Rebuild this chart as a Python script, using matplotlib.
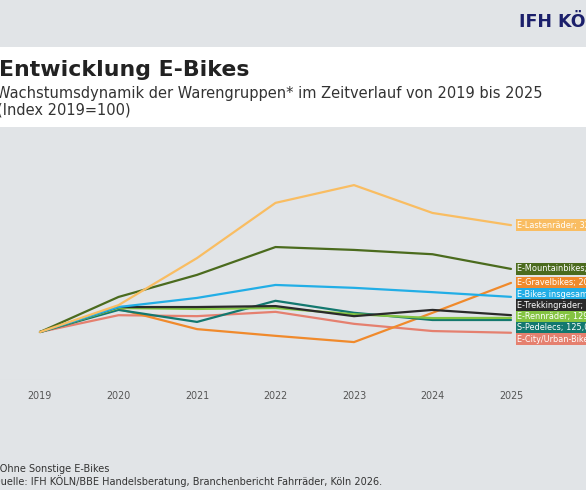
import matplotlib.pyplot as plt
from matplotlib.patches import Rectangle
from matplotlib.transforms import offset_copy

# Werte (Index 2019=100)
years = [2019, 2020, 2021, 2022, 2023, 2024, 2025]
lasten = [100, 156, 254, 369, 406, 348, 322.6]
mtb = [100, 173, 219, 277, 271, 262, 231.4]
gravel = [100, 148, 106, 92, 79, 140, 202.3]
gesamt = [100, 152, 171, 198, 192, 183, 173.2]
trekking = [100, 152, 152, 154, 133, 146, 135.1]
renn = [100, 150, 148, 150, 137, 129, 129.4]
spedelec = [100, 146, 121, 165, 140, 125, 125.0]
city = [100, 135, 133, 142, 117, 102, 98.4]

names = ["E-City/Urban-Bikes", "E-Gravelbikes", "S-Pedelecs", "E-Rennräder",
         "E-Trekkingräder", "E-Bikes insgesamt", "E-Mountainbikes", "E-Lastenräder"]
series = [city, gravel, spedelec, renn, trekking, gesamt, mtb, lasten]
colors = ["#E5806F", "#F08A2C", "#13786F", "#84C441",
          "#2A2A2A", "#22AEE6", "#4B6B1E", "#F9BD62"]

BG = "#E1E4E7"
W, H = 586, 490

fig = plt.figure(figsize=(W / 100, H / 100), dpi=100, facecolor=BG)

# weisses Titelband
fig.patches.append(Rectangle((0, 1 - 127 / H), 1, 80 / H, transform=fig.transFigure,
                             facecolor="white", edgecolor="none", zorder=0))

fig.text(519 / W, 1 - 22 / H, "IFH KÖLN", fontsize=12.5, fontweight="bold",
         color="#1B1F6B", va="center", ha="left")
fig.text(-1 / W, 1 - 76 / H, "Entwicklung E-Bikes", fontsize=15.8, fontweight="bold",
         color="#222222", va="baseline", ha="left")
fig.text(-4 / W, 1 - 97.5 / H,
         "Wachstumsdynamik der Warengruppen* im Zeitverlauf von 2019 bis 2025",
         fontsize=10.5, color="#333333", va="baseline", ha="left")
fig.text(-3 / W, 1 - 114.5 / H, "(Index 2019=100)", fontsize=10.5, color="#333333",
         va="baseline", ha="left")

fig.text(-5 / W, 1 - 469 / H, "*Ohne Sonstige E-Bikes", fontsize=7.0,
         color="#333333", va="center", ha="left")
fig.text(-7 / W, 1 - 481 / H,
         "Quelle: IFH KÖLN/BBE Handelsberatung, Branchenbericht Fahrräder, Köln 2026.",
         fontsize=7.0, color="#333333", va="center", ha="left")

# Plotbereich: 2019 bei x=40px, 2025 bei x=511px, 0 bei y=380px, 500 bei y=140px
ax = fig.add_axes([0, 1 - 380 / H, 1, 240 / H])
ax.set_facecolor("none")
step = (511 - 40) / 6
ax.set_xlim(2019 - 40 / step, 2019 + (W - 40) / step)
ax.set_ylim(0, 500)

for vals, col in zip(series, colors):
    ax.plot(years, vals, color=col, lw=1.6, solid_capstyle="round", zorder=3)

ax.axhline(0, xmin=0, xmax=551 / W, color="#D6D9DD", lw=0.8, zorder=1)

# Etiketten rechts, gegen Ueberlappung auseinandergeschoben
order = sorted(range(len(series)), key=lambda i: -series[i][-1])
ly = [series[i][-1] for i in order]
gap = 23.5
for _ in range(300):
    for k in range(len(ly) - 1):
        d = ly[k] - ly[k + 1]
        if d < gap:
            s = (gap - d) / 2
            ly[k] += s
            ly[k + 1] -= s

trans = offset_copy(ax.transData, fig=fig, x=6, y=0, units="dots")
for k, i in enumerate(order):
    val = f"{series[i][-1]:.1f}".replace(".", ",")
    ax.text(years[-1], ly[k], f"{names[i]}; {val}", transform=trans,
            fontsize=5.9, color="white", va="center", ha="left", zorder=4,
            bbox=dict(boxstyle="square,pad=0.18", facecolor=colors[i], edgecolor="none"))

ax.set_xticks(years)
ax.set_xticklabels([str(y) for y in years])
ax.set_yticks([])
ax.tick_params(axis="x", length=0, pad=8, labelsize=6.9, labelcolor="#555555")
for sp in ax.spines.values():
    sp.set_visible(False)

fig.savefig("out.png", dpi=100, facecolor=BG)
